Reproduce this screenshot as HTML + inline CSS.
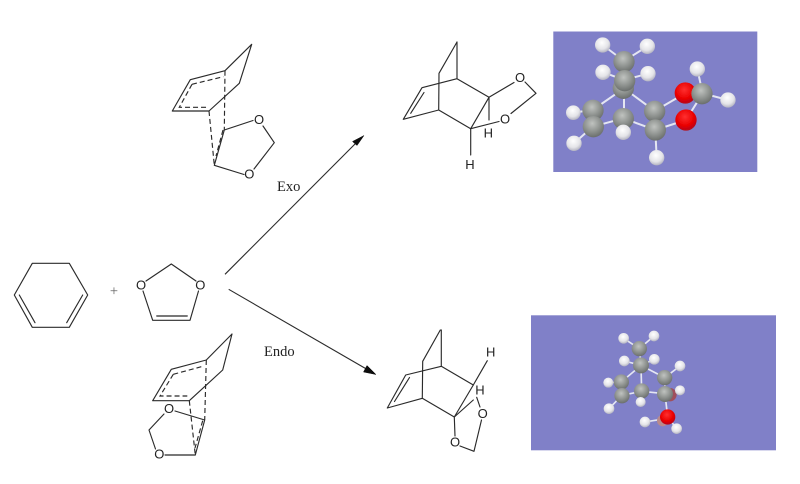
<!DOCTYPE html>
<html>
<head>
<meta charset="utf-8">
<style>
html,body{margin:0;padding:0;background:#fff;width:800px;height:484px;overflow:hidden}
svg{display:block}
.b{stroke:#2b2b2b;stroke-width:1.15;fill:none;stroke-linecap:round;stroke-linejoin:round}
.d{stroke:#2b2b2b;stroke-width:1.15;fill:none;stroke-dasharray:5 3}
.a{font-family:"Liberation Sans",sans-serif;font-size:13px;fill:#222;text-anchor:middle}
.t{font-family:"Liberation Serif",serif;font-size:14.5px;fill:#222;text-anchor:middle}
.m{stroke:#e4e6f2;stroke-width:5;fill:none;stroke-linecap:round}
</style>
</head>
<body>
<svg width="800" height="484" viewBox="0 0 800 484" xmlns="http://www.w3.org/2000/svg">
<defs>
<radialGradient id="c" cx="45%" cy="35%" r="70%"><stop offset="0" stop-color="#c0c3c0"/><stop offset=".55" stop-color="#8e928f"/><stop offset="1" stop-color="#646866"/></radialGradient>
<radialGradient id="h" cx="45%" cy="35%" r="70%"><stop offset="0" stop-color="#ffffff"/><stop offset=".6" stop-color="#e4e4e8"/><stop offset="1" stop-color="#a8a8b8"/></radialGradient>
<radialGradient id="o" cx="45%" cy="35%" r="70%"><stop offset="0" stop-color="#ff3030"/><stop offset=".6" stop-color="#ea0000"/><stop offset="1" stop-color="#a80a20"/></radialGradient>
<filter id="s" x="-2%" y="-2%" width="104%" height="104%"><feGaussianBlur stdDeviation="0.35"/></filter>
</defs>
<rect width="800" height="484" fill="#fff"/>
<g filter="url(#s)">

<!-- cyclohexadiene -->
<path class="b" d="M32.3 263.3H69.3L87.7 295L69.3 327.3H32.3L14.3 295Z"/>
<path class="b" d="M19.3 295L35 322.7M82.7 295L66.7 322.7"/>
<text x="114" y="295.5" class="t" style="fill:#666">+</text>

<!-- dioxole -->
<path class="b" d="M146 281L171.3 264L196 281M143 291L152.7 320.3H190L198.5 291M156.7 316H187.3"/>
<text x="141" y="289.5" class="a">O</text>
<text x="200.3" y="289.5" class="a">O</text>

<!-- exo TS -->
<path class="b" d="M251.7 44.3L225 70.7L190.3 79.7L172.3 111H209L239.3 83.3L251.7 44.3"/>
<path class="d" d="M192 84.3L223.3 76.7M192 84.3L179.3 107.3H207.3"/>
<path class="d" d="M225 70.7L224.3 130M209 111L214.3 165.3M223 130L216 156"/>
<path class="b" d="M224.3 130L214.3 165.3M224.3 130L253 120.5M214.3 165.3L244 174.5M263 126L274.3 142.7L254 169"/>
<text x="259" y="124" class="a">O</text>
<text x="249.3" y="178.5" class="a">O</text>

<!-- endo TS -->
<path class="b" d="M232 334L206.3 360L171.3 369.3L152.7 400.7H189.3L222.7 370L232 334"/>
<path class="d" d="M173.3 374.3L204 366M173.3 374.3L160 396H187.3"/>
<path class="d" d="M206.3 360L204.7 420M189.3 400.7L195.3 455M202.7 420.7L195 448"/>
<path class="b" d="M204.7 420L195.3 455M204.7 420L175 411M195.3 455H165M164 414L149 430L155.5 449"/>
<text x="169" y="413" class="a">O</text>
<text x="159.3" y="458.5" class="a">O</text>

<!-- arrows -->
<path d="M225 274.3L358 141" stroke="#2b2b2b" stroke-width="1.1" fill="none"/>
<path d="M364 135.5L352.5 141.5L357 145.5Z" fill="#111" stroke="#111" stroke-width=".5"/>
<path d="M228.7 289.3L369 370.5" stroke="#2b2b2b" stroke-width="1.1" fill="none"/>
<path d="M376 374.5L367 365.5L363.5 372Z" fill="#111" stroke="#111" stroke-width=".5"/>
<text x="288.7" y="191" class="t">Exo</text>
<text x="279.3" y="356" class="t">Endo</text>

<!-- exo product -->
<path class="b" d="M457 42L439 73.3L438.7 110L403.3 119.3L422 87.7L457 78.7V42M457 78.7L489 97.3L470.7 128.7L438.7 110M410.7 113.3L424 92.5"/>
<path class="b" d="M489 97.3L514 82.5M525 82L536 93.3L511 113.5M470.7 128.7L499 121.5M489 97.3L489 120M470.7 128.7V155"/>
<text x="520" y="82" class="a">O</text>
<text x="505" y="123.5" class="a">O</text>
<text x="488.3" y="137.5" class="a">H</text>
<text x="470" y="169" class="a">H</text>

<!-- endo product -->
<path class="b" d="M440.3 330L422.7 361.3L422.3 398.3L387.3 408L405.7 375L441.3 366.3V330M441.3 366.3L473.3 385L454.3 417L422.3 398.3M394.5 401.5L409.5 377.5"/>
<path class="b" d="M473.3 385L487.3 360.7M454.3 417L473.3 400M476.7 397.3L480 407M454.3 417L455 436M460 446L474 451.3L481.5 420"/>
<text x="482.7" y="418" class="a">O</text>
<text x="455" y="446.5" class="a">O</text>
<text x="490.7" y="356.5" class="a">H</text>
<text x="480" y="394.5" class="a">H</text>

<!-- panel 1 -->
<rect x="553.3" y="31.5" width="204" height="140.5" fill="#8080c8"/>
<g transform="translate(550 25) scale(.3333)">
<g class="m" style="stroke-width:6">
<path d="M158 60L222 108M292 64L222 108M160 142L222 165M294 146L222 165M222 108V190M222 190L128 255M222 190L314 258M222 190V280M128 255V305M128 305L220 280M220 280L316 315M314 258V315M314 258L405 205M316 315L408 285M405 205L458 205M408 285L458 205M458 205L442 132M458 205L534 225M128 255L70 263M128 305L72 355M220 280V322M316 315L320 398"/>
</g>
<circle cx="158" cy="60" r="23" fill="url(#h)"/>
<circle cx="292" cy="64" r="23" fill="url(#h)"/>
<circle cx="159" cy="142" r="23" fill="url(#h)"/>
<circle cx="294" cy="146" r="23" fill="url(#h)"/>
<circle cx="222" cy="110" r="32" fill="url(#c)"/>
<circle cx="220" cy="190" r="32" fill="url(#c)"/>
<circle cx="224" cy="167" r="32" fill="url(#c)"/>
<circle cx="70" cy="263" r="22" fill="url(#h)"/>
<circle cx="72" cy="355" r="23" fill="url(#h)"/>
<circle cx="129" cy="256" r="32" fill="url(#c)"/>
<circle cx="130" cy="305" r="32" fill="url(#c)"/>
<circle cx="220" cy="281" r="32" fill="url(#c)"/>
<circle cx="220" cy="322" r="23" fill="url(#h)"/>
<circle cx="314" cy="259" r="32" fill="url(#c)"/>
<circle cx="316" cy="315" r="32" fill="url(#c)"/>
<circle cx="320" cy="398" r="23" fill="url(#h)"/>
<circle cx="406" cy="204" r="32" fill="url(#o)"/>
<circle cx="408" cy="285" r="32" fill="url(#o)"/>
<circle cx="442" cy="132" r="23" fill="url(#h)"/>
<circle cx="534" cy="225" r="23" fill="url(#h)"/>
<circle cx="456" cy="206" r="32" fill="url(#c)"/>
</g>

<!-- panel 2 -->
<rect x="531" y="315.3" width="245" height="135" fill="#8080c8"/>
<g transform="translate(530 312) scale(.3333)">
<g class="m" style="stroke-width:5">
<path d="M281 79L328 110M372 72L328 110M283 147L333 160M373 142L333 160M328 110L333 160M333 160L274 210M333 160L404 197M333 160L335 238M274 210L276 250M276 250L335 238M335 238L405 245M404 197L405 245M404 197L450 162M405 245L450 235M274 210L235 212M276 250L237 290M335 238L332 270M405 245L413 315M345 330L395 322M440 350L413 315"/>
</g>
<circle cx="281" cy="79" r="16" fill="url(#h)"/>
<circle cx="372" cy="72" r="16" fill="url(#h)"/>
<circle cx="283" cy="147" r="16" fill="url(#h)"/>
<circle cx="373" cy="142" r="16" fill="url(#h)"/>
<circle cx="328" cy="110" r="23" fill="url(#c)"/>
<circle cx="333" cy="160" r="24" fill="url(#c)"/>
<circle cx="450" cy="162" r="16" fill="url(#h)"/>
<circle cx="235" cy="212" r="15" fill="url(#h)"/>
<circle cx="237" cy="290" r="16" fill="url(#h)"/>
<circle cx="274" cy="210" r="23" fill="url(#c)"/>
<circle cx="276" cy="251" r="23" fill="url(#c)"/>
<circle cx="335" cy="237" r="23" fill="url(#c)"/>
<circle cx="332" cy="270" r="15" fill="url(#h)"/>
<circle cx="420" cy="248" r="20" fill="#a0505c"/>
<circle cx="404" cy="197" r="23" fill="url(#c)"/>
<circle cx="405" cy="246" r="24" fill="url(#c)"/>
<circle cx="450" cy="235" r="15" fill="url(#h)"/>
<circle cx="398" cy="326" r="17" fill="#b98a8c"/>
<circle cx="413" cy="315" r="23" fill="url(#o)"/>
<circle cx="345" cy="330" r="16" fill="url(#h)"/>
<circle cx="440" cy="350" r="16" fill="url(#h)"/>
</g>
</g>
</svg>
</body>
</html>
